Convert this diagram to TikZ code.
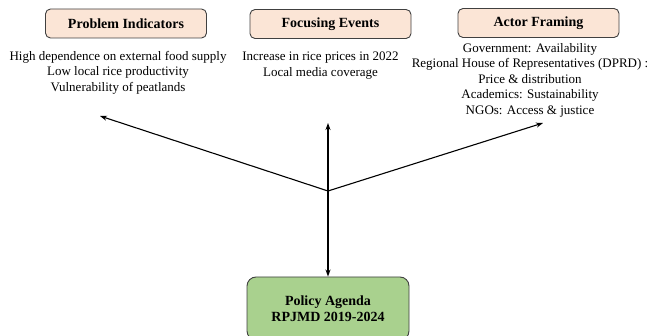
\documentclass[tikz,border=0pt]{standalone}
\usepackage{fontspec}
\setmainfont{Liberation Serif}
\usetikzlibrary{arrows.meta}
\definecolor{peach}{RGB}{251,229,214}
\definecolor{leaf}{RGB}{169,209,142}
\definecolor{rim}{RGB}{64,64,64}

\begin{document}
\begin{tikzpicture}[x=1pt,y=-1pt]
    % Setup the styles for the boxes and texts
        \tikzset{head style/.style={draw=rim,
                                    line width=0.9pt,
                                    rounded corners=5pt,
                                    fill=peach,
                                    minimum width=161pt,
                                    minimum height=29pt,
                                    font=\fontsize{14}{16}\selectfont\bfseries},
                 list style/.style={align=center,
                                    inner sep=0pt,
                                    font=\fontsize{13}{15.5}\selectfont},
                 goal style/.style={head style,
                                    fill=leaf,
                                    minimum width=162pt,
                                    minimum height=63pt,
                                    rounded corners=9pt,
                                    font=\fontsize{14}{16}\selectfont\bfseries}}
        \useasboundingbox (0,0) rectangle (647,336);
        % Draw the three headings
        \node[head style] at (126,23.5)  (problem) {Problem Indicators};
        \node[head style] at (330.5,24)  (events)  {Focusing Events};
        \node[head style] at (538.5,23)  (actors)  {Actor Framing};
        % Texts under the headings
        \node[list style, anchor=north] at (118,51)  (problem_txt)
            {High dependence on external food supply\\Low local rice productivity\\Vulnerability of peatlands};
        \node[list style, anchor=north] at (320.5,52) (events_txt)
            {Increase in rice prices in 2022\\Local media coverage};
        \node[list style, anchor=north] at (530,43) (actors_txt)
            {Government: Availability\\Regional House of Representatives (DPRD) :\\Price \& distribution\\Academics: Sustainability\\NGOs: Access \& justice};
        % Policy box at the bottom
        \node[goal style, align=center] at (328,308.5) (agenda)
            {Policy Agenda\\RPJMD 2019-2024};
        % Junction and arrow ends
        \coordinate (hub)   at (328,191);
        \coordinate (tip_l) at (100,116);
        \coordinate (tip_m) at (328,123);
        \coordinate (tip_r) at (543,123);
        % Connect with arrows
        \draw[line width=1.1pt, -{Stealth[length=7pt,width=5pt]}] (hub) -- (tip_l);
        \draw[line width=1.1pt, -{Stealth[length=7pt,width=5pt]}] (hub) -- (tip_m);
        \draw[line width=1.1pt, -{Stealth[length=7pt,width=5pt]}] (hub) -- (tip_r);
        \draw[line width=1.1pt, -{Stealth[length=7pt,width=5pt]}] (hub) -- (agenda.north);
\end{tikzpicture}
\end{document}
